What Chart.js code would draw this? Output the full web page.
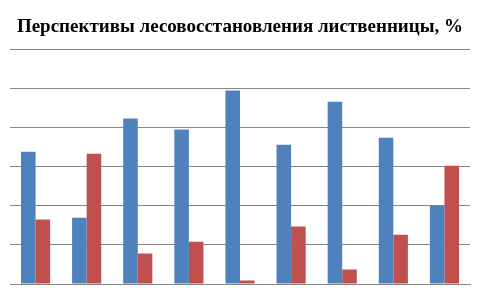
<!DOCTYPE html>
<html>
<head>
<meta charset="utf-8">
<script src="https://cdn.jsdelivr.net/npm/chart.js@4"></script>
<style>
  html, body { margin: 0; padding: 0; background: #fff; }
  #wrap { width: 480px; height: 288px; }
</style>
</head>
<body>
<div id="wrap"><canvas id="chart-larch"></canvas></div>
<script>
const categories = ['1', '2', '3', '4', '5', '6', '7', '8', '9'];
const seriesBlue = [33.9, 17.0, 42.4, 39.6, 49.6, 35.7, 46.7, 37.5, 20.1];
const seriesRed = [16.5, 33.4, 7.8, 10.8, 0.9, 14.7, 3.7, 12.6, 30.3];
const yTicks = [0, 10, 20, 30, 40, 50, 60];

(function () {
    var ctx = document.getElementById('chart-larch');
    var myChart = new Chart(ctx, {
        type: 'bar',
        data: {
            labels: categories,
            datasets: [{
                label: 'series 1',
                data: seriesBlue,
                backgroundColor: '#4F81BD',
                borderWidth: 0
            }, {
                label: 'series 2',
                data: seriesRed,
                backgroundColor: '#C0504D',
                borderWidth: 0
            }]
        },
        options: {
            responsive: true,
            maintainAspectRatio: false,
            animation: false,
            layout: { padding: { left: 10, right: 10, top: 0, bottom: 4 } },
            datasets: {
                bar: { barPercentage: 1, categoryPercentage: 0.57 }
            },
            plugins: {
                legend: { display: false },
                tooltip: { enabled: false },
                title: {
                    display: true,
                    text: 'Перспективы лесовосстановления лиственницы, %',
                    color: '#000',
                    font: { family: 'Liberation Serif', size: 19, weight: 'bold' },
                    padding: { top: 16, bottom: 11 }
                }
            },
            scales: {
                x: {
                    ticks: { display: false },
                    grid: { display: false, drawTicks: false },
                    border: { display: true, color: '#868686', width: 1 }
                },
                y: {
                    min: yTicks[0],
                    max: yTicks[yTicks.length - 1],
                    afterBuildTicks: function (axis) {
                        axis.ticks = yTicks.map(function (v) { return { value: v }; });
                    },
                    ticks: { display: false },
                    grid: { color: '#868686', lineWidth: 1, drawTicks: false },
                    border: { display: false }
                }
            }
        }
    });
})();
</script>
</body>
</html>
